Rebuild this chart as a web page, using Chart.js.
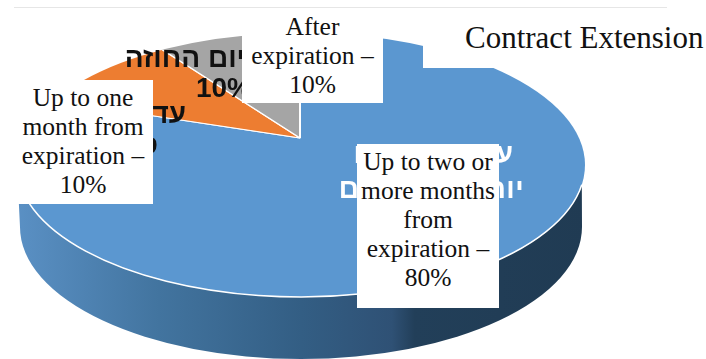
<!DOCTYPE html>
<html lang="en">

<head>
    <meta charset="UTF-8">
    <title>Contract Extension</title>
    <script src="https://cdn.jsdelivr.net/npm/chart.js"></script>
    <style>
        html, body { margin: 0; padding: 0; background: #fff; }
        #wrap { position: relative; width: 706px; height: 359px; overflow: hidden; }
        #myChart { position: absolute; left: 0; top: 0; }
        .rule { position: absolute; left: 14px; top: 7px; width: 653px; height: 1px; background: #e6e6e6; }
        .he { position: absolute; white-space: nowrap; font-family: "Liberation Sans", sans-serif; font-weight: bold;
              font-size: 28px; line-height: 32px; direction: rtl; }
        .box { position: absolute; background: #fff; color: #111; text-align: center;
               font-family: "Liberation Serif", serif; font-size: 25.5px; line-height: 29px; }
        .title { position: absolute; left: 465px; top: 20px; white-space: nowrap; color: #111;
                 font-family: "Liberation Serif", serif; font-size: 31px; line-height: 36px; }
    </style>
</head>

<body>
    <div id="wrap">
        <canvas id="myChart" width="706" height="359"></canvas>
        <div class="rule"></div>
    </div>

    <script>
        const categories = ['Up to two or more months from expiration', 'Up to one month from expiration', 'After expiration'];
        const values = [80, 10, 10];
        const colors = ['#5b97d0', '#ed7d31', '#a5a5a5'];

        const chartTitle = 'Contract Extension';

        // Hebrew labels printed on the pie itself
        const heAfter = ['עד סיום החוזה', values[2] + '%'];
        const heMonth = ['עד חודש לפני', 'סיום החוזה'];
        const heTwoMonths = ['עד חודשים או', 'יותר לפני סיום'];

        // lines of the white label boxes
        const boxLines = [
            ['Up to two or', 'more months', 'from', 'expiration –', values[0] + '%'],
            ['Up to one', 'month from', 'expiration –', values[1] + '%'],
            ['After', 'expiration –', values[2] + '%']
        ];

        // pie tilt
        const apex = { x: 300, y: 138 };
        const rim = { x: 301, y: 165, rx: 284, ry: 132 };
        const tilt = 0.466;
        const depth = 62;
        const wallStart = 0.15; // the wall only appears a little below the right end of the rim

        const tiltedPie = {
            id: 'tiltedPie',
            beforeDatasetsDraw(chart) {
                const ctx = chart.ctx;
                const arc = chart.getDatasetMeta(0).data[0];

                // side wall between the rim and the same ellipse pushed down
                const grad = ctx.createLinearGradient(rim.x - rim.rx, 0, rim.x + rim.rx, 0);
                grad.addColorStop(0, '#5a90c4');
                grad.addColorStop(0.25, '#42749f');
                grad.addColorStop(0.5, '#335e84');
                grad.addColorStop(0.66, '#2f5175');
                grad.addColorStop(0.7, '#223f59');
                grad.addColorStop(1, '#203b53');
                ctx.fillStyle = grad;
                ctx.beginPath();
                ctx.ellipse(rim.x, rim.y, rim.rx, rim.ry, 0, wallStart, Math.PI);
                ctx.ellipse(rim.x, rim.y + depth, rim.rx - 3, rim.ry, 0, Math.PI, 0, true);
                ctx.closePath();
                ctx.fill();

                // top face: slices are cut by the rim ellipse
                ctx.save();
                ctx.beginPath();
                ctx.ellipse(rim.x, rim.y, rim.rx, rim.ry, 0, 0, Math.PI * 2);
                ctx.clip();
                ctx.translate(apex.x, apex.y);
                ctx.scale(1, tilt);
                ctx.translate(-arc.x, -arc.y);
            },
            afterDatasetsDraw(chart) {
                const ctx = chart.ctx;
                ctx.restore();
                ctx.strokeStyle = '#fff';
                ctx.lineWidth = 1.5;
                ctx.beginPath();
                ctx.ellipse(rim.x, rim.y, rim.rx, rim.ry, 0, wallStart, Math.PI);
                ctx.stroke();
            }
        };

        new Chart(document.getElementById('myChart'), {
            type: 'pie',
            plugins: [tiltedPie],
            data: {
                labels: categories,
                datasets: [{
                    data: values,
                    backgroundColor: colors,
                    borderColor: '#fff',
                    borderWidth: 2,
                    clip: false
                }]
            },
            options: {
                responsive: false,
                animation: false,
                radius: 360,
                layout: { padding: 0 },
                plugins: { legend: { display: false }, tooltip: { enabled: false } }
            }
        });

        const wrap = document.getElementById('wrap');

        // each line is anchored by its right end, where the Hebrew starts
        function addHebrew(lines, color, spots) {
            lines.forEach(function (line, i) {
                const el = document.createElement('div');
                el.className = 'he';
                el.textContent = line;
                el.style.color = color;
                el.style.right = (706 - spots[i][0]) + 'px';
                el.style.top = spots[i][1] + 'px';
                if (spots[i][2]) el.style.letterSpacing = spots[i][2] + 'px';
                wrap.appendChild(el);
            });
        }

        function addBox(lines, x, y, w, h, pad) {
            const el = document.createElement('div');
            el.className = 'box';
            el.style.left = x + 'px';
            el.style.top = y + 'px';
            el.style.width = w + 'px';
            el.style.height = (h - pad) + 'px';
            el.style.paddingTop = pad + 'px';
            el.innerHTML = lines.join('<br>');
            wrap.appendChild(el);
        }

        addHebrew(heAfter, '#111', [[306, 42], [252, 72]]);
        addHebrew(heMonth, '#111', [[186, 98], [158, 129]]);
        addHebrew(heTwoMonths, '#fff', [[512, 138, -1.1], [524, 173, 0.4]]);

        addBox(boxLines[2], 242, 10, 141, 93, 2);
        addBox([], 423, 10, 283, 58, 0);
        addBox(boxLines[1], 13, 80, 140, 124, 3);
        addBox(boxLines[0], 357, 144, 142, 164, 3);

        const title = document.createElement('div');
        title.className = 'title';
        title.textContent = chartTitle;
        wrap.appendChild(title);
    </script>

</body>

</html>
